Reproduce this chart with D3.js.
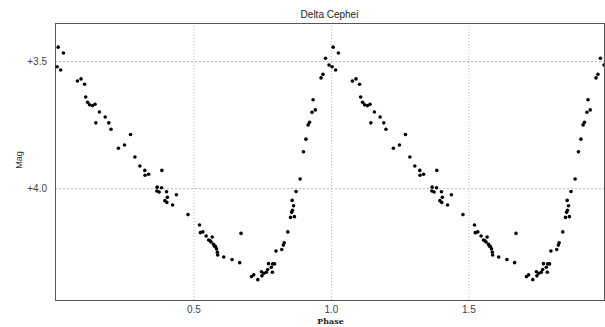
<!DOCTYPE html>
<html>
<head>
<meta charset="utf-8">
<script src="https://cdn.jsdelivr.net/npm/d3@7"></script>
<style>
  body { margin: 0; background: #fff; }
  svg { display: block; }
</style>
</head>
<body>
<svg id="chart" width="605" height="327"></svg>
<script>
// one cycle of observations (phase, magnitude); drawn twice, second copy shifted by +1
const phases = [
  0.004, 0.008, 0.017, 0.027, 0.078, 0.091, 0.104, 0.108, 0.115, 0.122,
  0.133, 0.142, 0.145, 0.158, 0.179, 0.192, 0.200, 0.227, 0.249, 0.271,
  0.287, 0.305, 0.323, 0.324, 0.337, 0.385, 0.368, 0.384, 0.367, 0.375,
  0.402, 0.405, 0.438, 0.396, 0.403, 0.424, 0.480, 0.522, 0.525, 0.534,
  0.546, 0.555, 0.560, 0.568, 0.564, 0.573, 0.576, 0.580, 0.584, 0.587,
  0.588, 0.610, 0.640, 0.668, 0.673, 0.711, 0.719, 0.734, 0.747, 0.749,
  0.756, 0.765, 0.770, 0.773, 0.783, 0.787, 0.788, 0.795, 0.800, 0.821,
  0.827, 0.830, 0.843, 0.853, 0.867, 0.857, 0.860, 0.864, 0.859, 0.873,
  0.888, 0.900, 0.909, 0.917, 0.922, 0.931, 0.943, 0.935, 0.964, 0.971,
  0.980, 0.993
]
const mags = [
  3.522, 3.445, 3.535, 3.468, 3.578, 3.570, 3.591, 3.641, 3.662, 3.672,
  3.675, 3.670, 3.743, 3.700, 3.720, 3.743, 3.768, 3.843, 3.830, 3.789,
  3.877, 3.913, 3.930, 3.949, 3.945, 3.930, 3.996, 3.998, 4.011, 4.015,
  4.014, 4.036, 4.026, 4.049, 4.056, 4.066, 4.104, 4.145, 4.175, 4.172,
  4.188, 4.204, 4.207, 4.192, 4.212, 4.221, 4.228, 4.230, 4.239, 4.252,
  4.263, 4.271, 4.281, 4.293, 4.178, 4.348, 4.341, 4.360, 4.329, 4.345,
  4.335, 4.331, 4.320, 4.297, 4.311, 4.331, 4.298, 4.298, 4.247, 4.241,
  4.224, 4.215, 4.172, 4.115, 4.112, 4.095, 4.087, 4.069, 4.048, 4.013,
  3.964, 3.857, 3.807, 3.751, 3.741, 3.701, 3.692, 3.652, 3.566, 3.552,
  3.489, 3.515
]
const xTicks = [0.5, 1.0, 1.5]
const yTicks = [3.5, 4.0]

const points = []
for (const cycle of [0, 1]) {
  phases.forEach((p, i) => points.push({ phase: p + cycle, mag: mags[i] }))
}

const svg = d3.select("#chart")
const plotL = 55, plotR = 604, plotT = 23, plotB = 300

const x = d3.scaleLinear().domain([0, 1.993]).range([56, plotR])
const y = d3.scaleLinear().domain([3.35, 4.44]).range([plotT, plotB]) // brighter on top

// grid
svg.append("g")
  .attr("transform", `translate(0,${plotB})`)
  .call(d3.axisBottom(x).tickValues(xTicks).tickSize(-(plotB - plotT)).tickFormat(""))
  .call(g => g.select(".domain").remove())
  .selectAll("line")
  .attr("stroke", "#b8b8b8")
  .attr("stroke-dasharray", "1,2")

svg.append("g")
  .attr("transform", `translate(${plotL},0)`)
  .call(d3.axisLeft(y).tickValues(yTicks).tickSize(-(plotR - plotL)).tickFormat(""))
  .call(g => g.select(".domain").remove())
  .selectAll("line")
  .attr("stroke", "#b8b8b8")
  .attr("stroke-dasharray", "2,2")

// tick labels
svg.append("g")
  .attr("transform", `translate(0,${plotB})`)
  .call(d3.axisBottom(x).tickValues(xTicks).tickSize(0).tickPadding(6).tickFormat(d3.format(".1f")))
  .call(g => g.select(".domain").remove())
  .selectAll("text")
  .attr("font-family", "Liberation Sans, Arial, sans-serif")
  .attr("font-size", 10)
  .attr("fill", "#444")

svg.append("g")
  .attr("transform", `translate(${plotL},0)`)
  .call(d3.axisLeft(y).tickValues(yTicks).tickSize(0).tickPadding(8).tickFormat(d => "+" + d.toFixed(1)))
  .call(g => g.select(".domain").remove())
  .selectAll("text")
  .attr("font-family", "Liberation Sans, Arial, sans-serif")
  .attr("font-size", 10)
  .attr("fill", "#444")

// frame
svg.append("rect")
  .attr("x", plotL).attr("y", plotT)
  .attr("width", plotR - plotL).attr("height", plotB - plotT)
  .attr("fill", "none")
  .attr("stroke", "#555")
  .attr("stroke-width", 1)
  .attr("shape-rendering", "crispEdges")

svg.append("clipPath").attr("id", "plot")
  .append("rect")
  .attr("x", plotL).attr("y", plotT)
  .attr("width", plotR - plotL).attr("height", plotB - plotT)

// observations
svg.append("g")
  .attr("clip-path", "url(#plot)")
  .selectAll("circle")
  .data(points)
  .enter()
  .append("circle")
  .attr("cx", d => x(d.phase))
  .attr("cy", d => y(d.mag))
  .attr("r", 1.8)
  .attr("fill", "#000")

// labels
svg.append("text")
  .attr("x", (plotL + plotR) / 2).attr("y", 18)
  .attr("text-anchor", "middle")
  .attr("font-family", "Liberation Sans, Arial, sans-serif")
  .attr("font-size", 10)
  .attr("fill", "#222")
  .text("Delta Cephei")

svg.append("text")
  .attr("transform", "translate(22,160) rotate(-90)")
  .attr("text-anchor", "middle")
  .attr("font-family", "Liberation Sans, Arial, sans-serif")
  .attr("font-size", 9)
  .attr("fill", "#333")
  .text("Mag")

svg.append("text")
  .attr("x", (plotL + plotR) / 2 + 1).attr("y", 324)
  .attr("text-anchor", "middle")
  .attr("font-family", "DejaVu Serif, serif")
  .attr("font-size", 8)
  .attr("font-weight", "bold")
  .attr("fill", "#222")
  .text("Phase")
</script>
</body>
</html>
